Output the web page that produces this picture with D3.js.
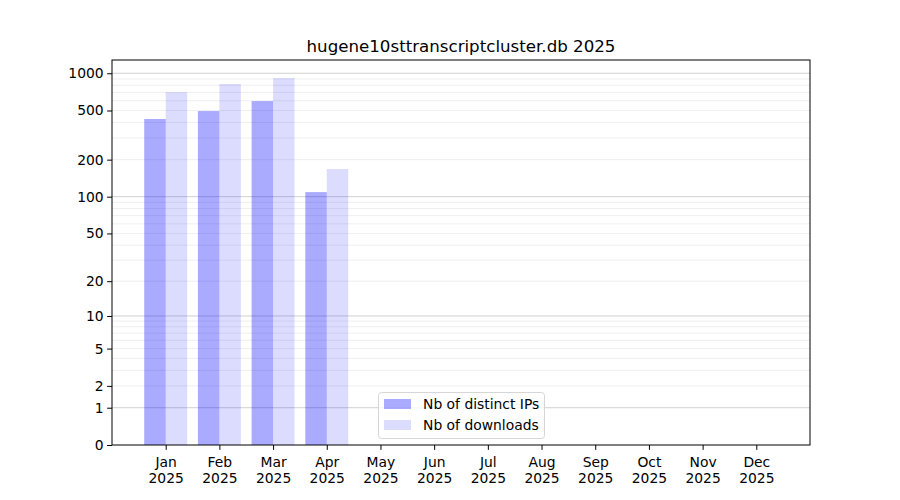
<!DOCTYPE html>
<html><head><meta charset="utf-8">
<script src="https://cdn.jsdelivr.net/npm/d3@7"></script>
<style>body{margin:0;background:#fff}svg{display:block}text{font-family:"DejaVu Sans",sans-serif}</style>
</head><body><svg id="c" width="900" height="500"></svg>
<script>
const months = ["Jan","Feb","Mar","Apr","May","Jun","Jul","Aug","Sep","Oct","Nov","Dec"];
const year = "2025";
const distinctIPs = [427, 495, 596, 109, null, null, null, null, null, null, null, null];
const downloads = [705, 819, 915, 168, null, null, null, null, null, null, null, null];
const yTicks = [0, 1, 2, 5, 10, 20, 50, 100, 200, 500, 1000];
const majorGrid = [1, 10, 100, 1000];
const minorGrid = [2,3,4,5,6,7,8,9,20,30,40,50,60,70,80,90,200,300,400,500,600,700,800,900];
const title = "hugene10sttranscriptcluster.db 2025";

const FS = 13.89;
const svg = d3.select("#c");
const L = 112, R = 810, T = 60, B = 445;
const x = d3.scaleLinear().domain([0, 13]).range([L, R]);
const y = d3.scaleSymlog().constant(1).domain([0, 1280]).range([B, T]);
const bw = x(0.4) - x(0);

const g = svg.append("g");
// grid
g.selectAll(".mn").data(minorGrid).join("line")
  .attr("x1", L).attr("x2", R).attr("y1", d => y(d)).attr("y2", d => y(d))
  .attr("stroke", "#ebebeb").attr("stroke-width", 0.8);
g.selectAll(".mj").data(majorGrid).join("line")
  .attr("x1", L).attr("x2", R).attr("y1", d => y(d)).attr("y2", d => y(d))
  .attr("stroke", "#c4c4c4").attr("stroke-width", 0.8);

// bars
const idx = months.map((m, i) => i);
g.selectAll(".ip").data(idx.filter(i => distinctIPs[i] != null)).join("rect")
  .attr("x", i => x(i + 1) - bw).attr("width", bw)
  .attr("y", i => y(distinctIPs[i])).attr("height", i => B - y(distinctIPs[i]))
  .attr("fill", "#0000ff").attr("fill-opacity", 0.333);
g.selectAll(".dl").data(idx.filter(i => downloads[i] != null)).join("rect")
  .attr("x", i => x(i + 1)).attr("width", bw)
  .attr("y", i => y(downloads[i])).attr("height", i => B - y(downloads[i]))
  .attr("fill", "#0000ff").attr("fill-opacity", 0.137);

// frame
svg.append("rect").attr("x", L).attr("y", T).attr("width", R - L).attr("height", B - T)
  .attr("fill", "none").attr("stroke", "#000").attr("stroke-width", 1);

// y axis
const yAxis = d3.axisLeft(y).tickValues(yTicks).tickFormat(d3.format("d")).tickSize(4.86).tickPadding(3.5);
const ya = svg.append("g").attr("transform", `translate(${L},0)`).call(yAxis);
ya.select(".domain").remove();
ya.selectAll("text").attr("font-size", FS).attr("fill", "#000").style("font-family", "DejaVu Sans");
ya.selectAll("line").attr("stroke", "#000");

// x axis
const xAxis = d3.axisBottom(x).tickValues(d3.range(1, 13)).tickFormat("").tickSize(4.86);
const xa = svg.append("g").attr("transform", `translate(0,${B})`).call(xAxis);
xa.select(".domain").remove();
xa.selectAll("line").attr("stroke", "#000");
xa.selectAll(".tick").each(function(d) {
  const t = d3.select(this).append("text").attr("fill", "#000").attr("font-size", FS)
    .attr("text-anchor", "middle").style("font-family", "DejaVu Sans");
  t.append("tspan").attr("x", 0).attr("y", 22).text(months[d - 1]);
  t.append("tspan").attr("x", 0).attr("y", 38).text(year);
});

// title
svg.append("text").attr("x", (L + R) / 2).attr("y", 52).attr("text-anchor", "middle")
  .attr("font-size", 16.67).attr("fill", "#000").text(title);

// legend
const lg = svg.append("g").attr("transform", "translate(378,392)");
lg.append("rect").attr("x", 0.5).attr("y", 0.5).attr("width", 166).attr("height", 46).attr("rx", 3)
  .attr("fill", "#fff").attr("fill-opacity", 0.8).attr("stroke", "#d6d6d6");
const items = [["Nb of distinct IPs", 0.333], ["Nb of downloads", 0.137]];
items.forEach((it, i) => {
  lg.append("rect").attr("x", 6).attr("y", 7 + i * 21).attr("width", 27).attr("height", 10)
    .attr("fill", "#0000ff").attr("fill-opacity", it[1]);
  lg.append("text").attr("x", 45).attr("y", 17 + i * 21).attr("font-size", FS).attr("fill", "#000").text(it[0]);
});
</script></body></html>
